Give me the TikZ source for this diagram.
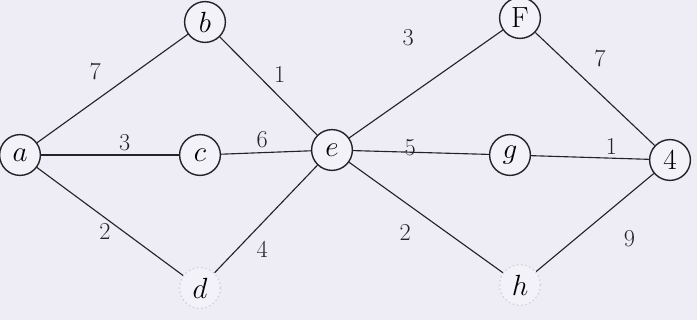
\documentclass[tikz,border=0pt]{standalone}
\usepackage{xcolor}
\usepackage{tikz}
\usetikzlibrary{arrows.meta, positioning}

\definecolor{paper}{RGB}{238,237,246}
\definecolor{pencil}{RGB}{35,35,40}

\begin{document}
\begin{tikzpicture}[
      x=0.025cm, y=-0.025cm,
      mycircle/.style={
         circle,
         draw=pencil,
         line width=1pt,
         fill=white,
         fill opacity = 0.3,
         text opacity=1,
         inner sep=0pt,
         minimum size=29pt,
         font=\huge},
      faintcircle/.style={
         mycircle,
         draw=pencil!20,
         dotted},
      myedge/.style={draw=pencil, line width=0.8pt},
      mylabel/.style={font=\LARGE, text=pencil, inner sep=1pt}
      ]
      \useasboundingbox[fill=paper] (0,0) rectangle (697,320);

      \node[mycircle]    at (20, 155) (a) {$a$};
      \node[mycircle]    at (205, 22) (b) {$b$};
      \node[mycircle]    at (200, 155) (c) {$c$};
      \node[faintcircle] at (200, 288) (d) {$d$};
      \node[mycircle]    at (332, 150) (e) {$e$};
      \node[mycircle]    at (520, 18) (f) {F};
      \node[mycircle]    at (510, 155) (g) {$g$};
      \node[mycircle]    at (670, 160) (i) {4};
      \node[faintcircle] at (520, 285) (h) {$h$};

    \foreach \i/\j/\txt/\dy/\pp in {% start node/end node/text/shift/position
      a/b/7/21pt/0.385,
      b/e/1/16pt/0.616,
      a/c/3/8.5pt/0.607,
      c/e/6/9pt/0.457,
      a/d/2/-9.5pt/0.466,
      d/e/4/-18.5pt/0.462,
      e/f/3/42pt/0.384,
      f/i/7/25pt/0.541,
      e/g/5/3pt/0.42,
      g/i/1/8.5pt/0.683,
      e/h/2/-21pt/0.365,
      h/i/9/-32pt/0.793
      }
       \draw [myedge] (\i) -- node[mylabel,pos=\pp,yshift=\dy] {\txt} (\j);

    \end{tikzpicture}
\end{document}
